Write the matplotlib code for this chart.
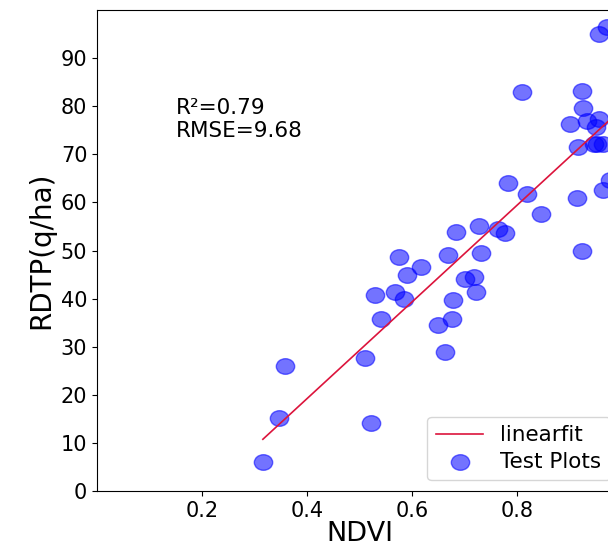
import numpy as np
import matplotlib
matplotlib.use('Agg')
import matplotlib.pyplot as plt
from matplotlib.path import Path
from matplotlib.transforms import Affine2D

# NDVI vs RDTP test plots
ndvi = [0.316, 0.347, 0.359, 0.511, 0.522, 0.529, 0.541, 0.568, 0.576, 0.585,
        0.590, 0.618, 0.650, 0.662, 0.677, 0.679, 0.669, 0.684, 0.701, 0.718,
        0.722, 0.728, 0.732, 0.763, 0.778, 0.846, 0.923, 0.914, 0.956, 0.971,
        0.809, 0.923, 0.926, 0.901, 0.933, 0.957, 0.950, 0.917, 0.947, 0.953,
        0.964, 0.782, 0.820, 0.963, 0.977]
rdtp = [6.1, 15.1, 26.0, 27.7, 14.2, 40.7, 35.7, 41.4, 48.6, 39.9,
        45.0, 46.5, 34.5, 29.0, 35.7, 39.8, 49.1, 53.9, 44.0, 44.5,
        41.4, 55.1, 49.4, 54.4, 53.7, 57.5, 49.9, 61.0, 95.1, 96.4,
        82.9, 83.2, 79.7, 76.3, 77.0, 77.4, 75.7, 71.6, 72.1, 72.1,
        72.1, 64.1, 61.7, 62.6, 64.6]

fit_slope = 100.5
fit_intercept = -21.0
r2_text = 'R²=0.79\nRMSE=9.68'

xticks = [0.2, 0.4, 0.6, 0.8]
yticks = list(range(0, 100, 10))

# markers in the original look a bit squashed
ell = Path(Affine2D().scale(1.0, 0.85).transform(Path.unit_circle().vertices),
           Path.unit_circle().codes)

fig = plt.figure(figsize=(6.08, 5.46), dpi=100)
ax = fig.add_axes([0.1595, 0.1007, 0.8635, 0.881])

xs = np.array([min(ndvi), max(ndvi)])
ax.plot(xs, fit_slope * xs + fit_intercept, color='crimson', lw=1.2, label='linearfit')
ax.scatter(ndvi, rdtp, s=175, marker=ell, color='blue', alpha=0.55, label='Test Plots')

ax.text(0.15, 73.5, r2_text, fontsize=15.5)

ax.set_xlim(0, 1)
ax.set_ylim(0, 100)
ax.set_xticks(xticks)
ax.set_yticks(yticks)
ax.tick_params(labelsize=15)
ax.set_xlabel('NDVI', fontsize=19.5, labelpad=0)
ax.set_ylabel('RDTP(q/ha)', fontsize=20)
ax.legend(loc='lower right', bbox_to_anchor=(0.998, 0.0), fontsize=15.5,
          labelspacing=0.3, handlelength=2.2, borderpad=0.4)

fig.savefig('out.png', dpi=100)
